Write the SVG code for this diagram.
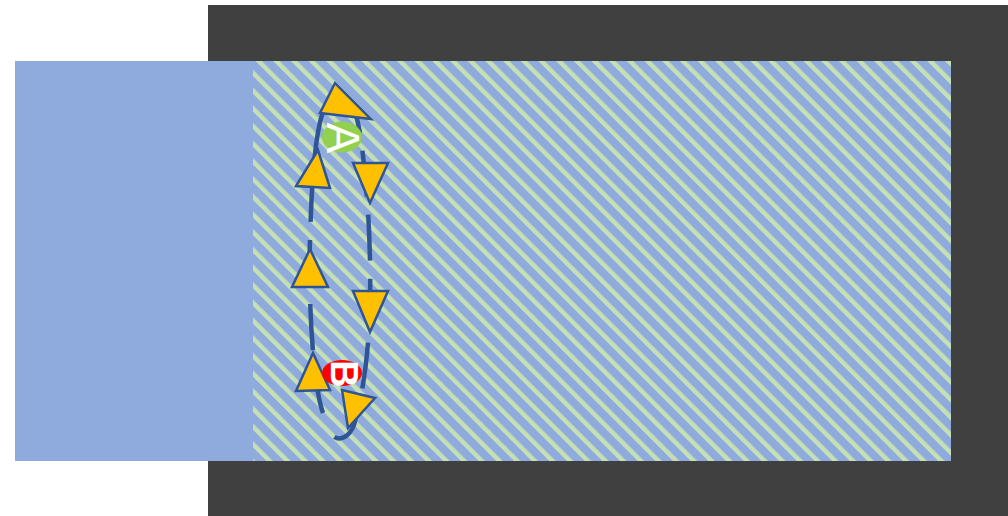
<svg xmlns="http://www.w3.org/2000/svg" width="1008" height="516" viewBox="0 0 1008 516">
<style>
.tri{fill:#FFC000;stroke:#2F5597;stroke-width:2.5;stroke-linejoin:miter}
.loop{fill:none;stroke:#2F5597;stroke-width:4.5;stroke-dasharray:46 18;stroke-linecap:butt}
.lbl{font-family:"Liberation Sans",Arial,sans-serif;fill:#FFFFFF;text-anchor:middle}
</style>
<defs>
<pattern id="stripes" patternUnits="userSpaceOnUse" width="12.5" height="12.5" patternTransform="rotate(-45)">
<rect x="0" y="0" width="12.5" height="12.5" fill="#8FAADC"/>
<rect x="0" y="0" width="4.5" height="12.5" fill="#C5E0B4"/>
</pattern>
</defs>
<rect id="frame" x="208" y="5" width="800" height="511" fill="#404040"/>
<rect id="panel" x="15" y="61" width="238" height="400" fill="#8FAADC"/>
<rect id="hatched" x="253" y="61" width="698" height="400" fill="url(#stripes)"/>
<g id="connectors">
<path class="loop" d="M 323 413 C 313 385, 308 300, 310 240 C 312 170, 316 125, 326 104"/>
<path class="loop" stroke-dashoffset="18" d="M 353 106 C 356 114, 359 125, 361 140 C 368 190, 371 250, 370 300 C 369 350, 364 390, 354 425 C 348 440, 336 442, 331 433"/>
</g>
<g id="arrows">
<polygon class="tri" points="335,83 320,113 371,119"/>
<polygon class="tri" points="318,150 296,186 330,188"/>
<polygon class="tri" points="310,249 292,287 328,287"/>
<polygon class="tri" points="313,353 296,391 330,390"/>
<polygon class="tri" points="353,163 388,163 370,203"/>
<polygon class="tri" points="353,291 388,291 370,332"/>
<polygon class="tri" points="342,390 375,398 348,428"/>
</g>
<g id="labelA">
<ellipse cx="342" cy="137" rx="20" ry="15.5" fill="#92D050"/>
<text class="lbl" font-size="46" transform="translate(343,138) rotate(90)" y="16.5">A</text>
</g>
<g id="labelB">
<ellipse cx="342" cy="373" rx="20" ry="13" fill="#FF0000"/>
<text class="lbl" font-size="38" font-weight="bold" transform="translate(345,374) rotate(90)" y="13.7">B</text>
</g>
</svg>
